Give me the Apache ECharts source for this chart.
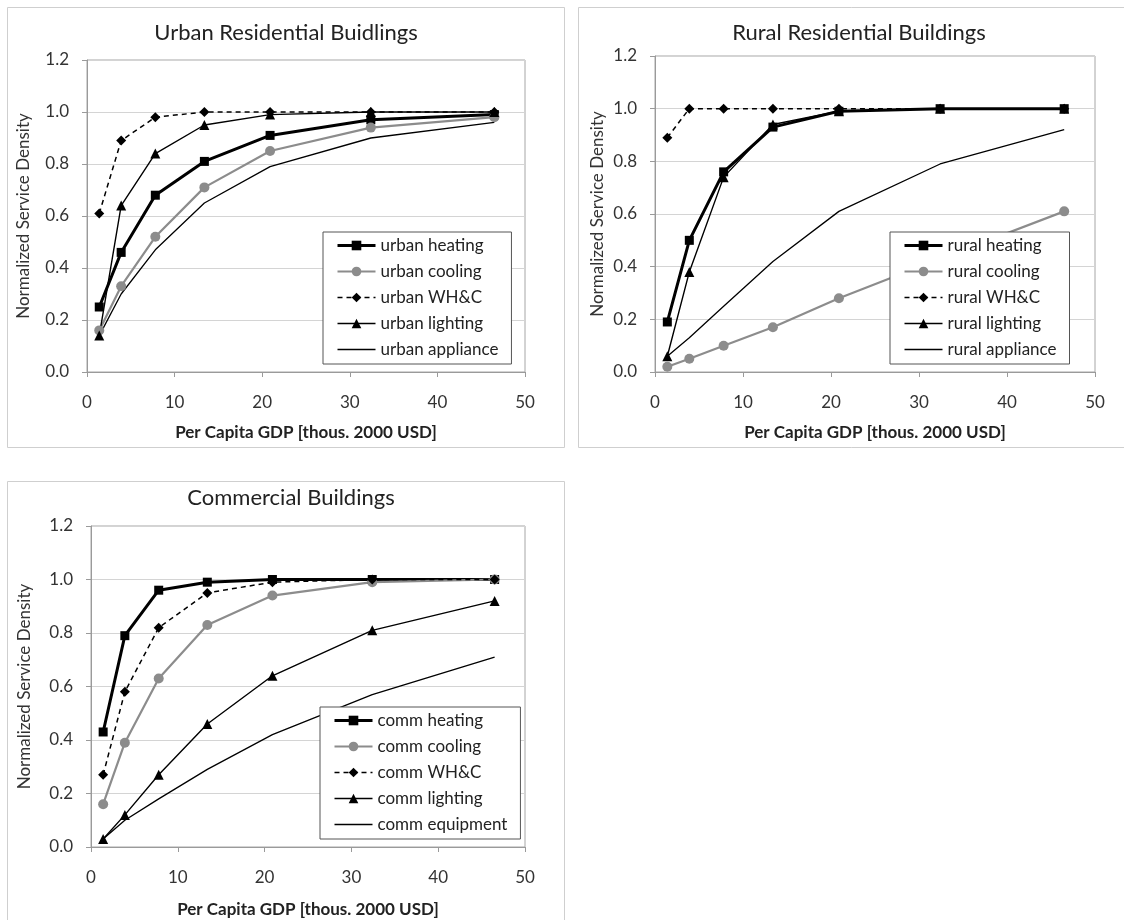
<!DOCTYPE html>
<html>
<head>
<meta charset="utf-8">
<script src="https://cdn.jsdelivr.net/npm/echarts@6/dist/echarts.min.js"></script>
<style>
  html, body { margin: 0; padding: 0; background: #fff; }
  #chart { width: 1124px; height: 920px; }
</style>
</head>
<body>
<div id="chart"></div>
<script>
// Per capita GDP sample points (thousand 2000 USD)
const gdp = [1.4, 3.9, 7.8, 13.4, 20.9, 32.4, 46.5];

// Urban residential service densities
const urbanHeating   = [0.25, 0.46, 0.68, 0.81, 0.91, 0.97, 0.99];
const urbanCooling   = [0.16, 0.33, 0.52, 0.71, 0.85, 0.94, 0.98];
const urbanWHC       = [0.61, 0.89, 0.98, 1.00, 1.00, 1.00, 1.00];
const urbanLighting  = [0.14, 0.64, 0.84, 0.95, 0.99, 1.00, 1.00];
const urbanAppliance = [0.14, 0.30, 0.47, 0.65, 0.79, 0.90, 0.96];

// Rural residential service densities
const ruralHeating   = [0.19, 0.50, 0.76, 0.93, 0.99, 1.00, 1.00];
const ruralCooling   = [0.02, 0.05, 0.10, 0.17, 0.28, 0.43, 0.61];
const ruralWHC       = [0.89, 1.00, 1.00, 1.00, 1.00, 1.00, 1.00];
const ruralLighting  = [0.06, 0.38, 0.74, 0.94, 0.99, 1.00, 1.00];
const ruralAppliance = [0.06, 0.13, 0.25, 0.42, 0.61, 0.79, 0.92];

// Commercial service densities
const commHeating   = [0.43, 0.79, 0.96, 0.99, 1.00, 1.00, 1.00];
const commCooling   = [0.16, 0.39, 0.63, 0.83, 0.94, 0.99, 1.00];
const commWHC       = [0.27, 0.58, 0.82, 0.95, 0.99, 1.00, 1.00];
const commLighting  = [0.03, 0.12, 0.27, 0.46, 0.64, 0.81, 0.92];
const commEquipment = [0.03, 0.10, 0.18, 0.29, 0.42, 0.57, 0.71];

// Text
const panelTitles = ['Urban Residential Buidlings', 'Rural Residential Buildings', 'Commercial Buildings'];
const yAxisTitle = 'Normalized Service Density';
const xAxisTitle = 'Per Capita GDP [thous. 2000 USD]';
const urbanNames = ['urban heating', 'urban cooling', 'urban WH&C', 'urban lighting', 'urban appliance'];
const ruralNames = ['rural heating', 'rural cooling', 'rural WH&C', 'rural lighting', 'rural appliance'];
const commNames  = ['comm heating', 'comm cooling', 'comm WH&C', 'comm lighting', 'comm equipment'];

const FONT = 'Lato, "Open Sans", sans-serif';
const GRAY = '#8c8c8c';

const pairs = vals => gdp.map((x, i) => [x, vals[i]]);

// One style per end use: heating, cooling, WH&C, lighting, appliance/equipment
const styles = [
  { symbol: 'rect',     symbolSize: 9,  color: '#000', width: 3,   type: 'solid' },
  { symbol: 'circle',   symbolSize: 10, color: GRAY,   width: 2.2, type: 'solid' },
  { symbol: 'diamond',  symbolSize: 10, color: '#000', width: 1.5, type: [5, 4] },
  { symbol: 'triangle', symbolSize: 10, color: '#000', width: 1.4, type: 'solid' },
  { symbol: 'none',     symbolSize: 0,  color: '#000', width: 1.3, type: 'solid' }
];

function buildSeries(names, groups, idx) {
  return names.map((name, k) => {
    const s = styles[k];
    return {
      name: name,
      type: 'line',
      xAxisIndex: idx,
      yAxisIndex: idx,
      data: pairs(groups[k]),
      symbol: s.symbol,
      symbolSize: s.symbolSize,
      showSymbol: s.symbol !== 'none',
      animation: false,
      itemStyle: { color: s.color },
      lineStyle: { color: s.color, width: s.width, type: s.type },
      emphasis: { disabled: true }
    };
  });
}

// Legend entries: line + marker, and a plain stroke for the marker-less series
function legendItems(names) {
  return names.map((name, k) => {
    const s = styles[k];
    if (s.symbol === 'none') {
      return { name: name, icon: 'path://M0 0H38V1.3H0Z', itemStyle: { color: s.color } };
    }
    return { name: name, lineStyle: { width: s.width, type: s.type, color: s.color },
             itemStyle: { color: s.color } };
  });
}

const grids = [
  { left: 87,  top: 60,  width: 438, height: 312 },
  { left: 655, top: 56,  width: 440, height: 316 },
  { left: 91,  top: 526, width: 434, height: 321 }
];
const yNameGaps = [55, 49, 58];
const xNameGaps = [52, 52, 54];

const xAxes = grids.map((g, i) => ({
  type: 'value', gridIndex: i, min: 0, max: 50, interval: 10,
  name: xAxisTitle, nameLocation: 'middle', nameGap: xNameGaps[i],
  nameTextStyle: { fontFamily: FONT, fontSize: 17, fontWeight: 'bold', color: '#222' },
  axisLine: { show: true, lineStyle: { color: '#9a9a9a', width: 1 } },
  axisTick: { show: true, length: 5, lineStyle: { color: '#9a9a9a' } },
  axisLabel: { fontFamily: FONT, fontSize: 17, color: '#333', margin: 22 },
  splitLine: { show: false }
}));

const yAxes = grids.map((g, i) => ({
  type: 'value', gridIndex: i, min: 0, max: 1.2, interval: 0.2,
  name: yAxisTitle, nameLocation: 'middle', nameGap: yNameGaps[i],
  nameTextStyle: { fontFamily: FONT, fontSize: 17, color: '#333' },
  axisLine: { show: true, lineStyle: { color: '#9a9a9a', width: 1 } },
  axisTick: { show: true, length: 5, lineStyle: { color: '#9a9a9a' } },
  axisLabel: { fontFamily: FONT, fontSize: 17, color: '#333', margin: 18,
               formatter: v => v.toFixed(1) },
  splitLine: { show: true, lineStyle: { color: '#d4d4d4', width: 1 } }
}));

const titles = [
  { text: panelTitles[0], left: 286, top: 22 },
  { text: panelTitles[1], left: 859, top: 22 },
  { text: panelTitles[2], left: 291, top: 487 }
].map(t => ({
  text: t.text, left: t.left, top: t.top, textAlign: 'center', padding: 0,
  textStyle: { fontFamily: FONT, fontSize: 22, fontWeight: 'normal', color: '#222' }
}));

const legendPos = [
  { left: 323, top: 232 },
  { left: 890, top: 232 },
  { left: 320, top: 707 }
];
const legends = [urbanNames, ruralNames, commNames].map((names, i) => ({
  data: legendItems(names),
  orient: 'vertical',
  left: legendPos[i].left,
  top: legendPos[i].top,
  padding: [5, 13, 6, 13],
  itemWidth: 38,
  itemHeight: 12,
  itemGap: 9,
  selectedMode: false,
  backgroundColor: '#fff',
  borderColor: '#555',
  borderWidth: 1,
  textStyle: { fontFamily: FONT, fontSize: 17, color: '#222' }
}));

// Light frame around each panel
const frames = [
  { x: 7,   y: 7,   width: 557, height: 440 },
  { x: 578, y: 7,   width: 560, height: 440 },
  { x: 7,   y: 481, width: 557, height: 460 }
].map(r => ({
  type: 'rect', silent: true, z: -10,
  shape: { x: r.x + 0.5, y: r.y + 0.5, width: r.width, height: r.height },
  style: { fill: 'none', stroke: '#cfcfcf', lineWidth: 1 }
}));

const series = [].concat(
  buildSeries(urbanNames, [urbanHeating, urbanCooling, urbanWHC, urbanLighting, urbanAppliance], 0),
  buildSeries(ruralNames, [ruralHeating, ruralCooling, ruralWHC, ruralLighting, ruralAppliance], 1),
  buildSeries(commNames,  [commHeating,  commCooling,  commWHC,  commLighting,  commEquipment], 2)
);

const chart = echarts.init(document.getElementById('chart'), null, { renderer: 'canvas' });
chart.setOption({
  backgroundColor: '#fff',
  animation: false,
  title: titles,
  legend: legends,
  grid: grids.map(g => Object.assign({ show: true, borderColor: '#a6a6a6', borderWidth: 1, backgroundColor: 'transparent' }, g)),
  xAxis: xAxes,
  yAxis: yAxes,
  graphic: frames,
  series: series
});
</script>
</body>
</html>
